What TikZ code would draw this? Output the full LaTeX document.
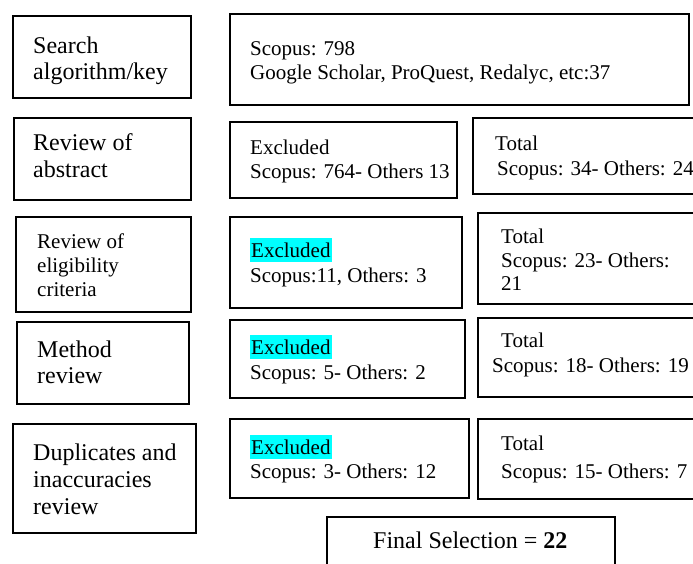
\documentclass[tikz,border=0pt]{standalone}
\usepackage{fontspec}
\setmainfont{Liberation Serif}
\definecolor{hlcyan}{RGB}{0,255,255}
\begin{document}
\begin{tikzpicture}[x=1pt,y=-1pt,
  box/.style={draw, line width=1.8pt, inner sep=0pt, anchor=north west},
  big/.style={font=\fontsize{24}{27}\selectfont, anchor=base west, inner sep=0pt},
  small/.style={font=\fontsize{21}{24}\selectfont, anchor=base west, inner sep=0pt},
  hl/.style={small, fill=hlcyan, text height=19pt, text depth=5pt, inner xsep=1pt}]
\useasboundingbox (0,0) rectangle (693,563);
\clip (0,0) rectangle (693,563);
% boxes
\node[box, minimum width=178pt, minimum height=82pt] (search) at (12,15) {};
\node[box, minimum width=459pt, minimum height=91pt] (scopus) at (229,13) {};
\node[box, minimum width=177pt, minimum height=82pt] (abstract) at (13,117) {};
\node[box, minimum width=227pt, minimum height=76pt] (exc1) at (229,121) {};
\node[box, minimum width=228pt, minimum height=76pt] (tot1) at (472,117) {};
\node[box, minimum width=175pt, minimum height=95pt] (elig) at (15,216) {};
\node[box, minimum width=232pt, minimum height=91pt] (exc2) at (229,216) {};
\node[box, minimum width=223pt, minimum height=91pt] (tot2) at (477,212) {};
\node[box, minimum width=172pt, minimum height=82pt] (method) at (16,321) {};
\node[box, minimum width=235pt, minimum height=78pt] (exc3) at (229,319) {};
\node[box, minimum width=223pt, minimum height=79pt] (tot3) at (477,317) {};
\node[box, minimum width=183pt, minimum height=109pt] (dup) at (12,423) {};
\node[box, minimum width=239pt, minimum height=79pt] (exc4) at (229,418) {};
\node[box, minimum width=223pt, minimum height=80pt] (tot4) at (477,418) {};
\node[box, minimum width=288pt, minimum height=64pt] (final) at (326,516) {};
% texts row 1
\node[big] (t1a) at (33,53) {Search};
\node[big] (t1b) at (33,79) {algorithm/key};
\node[small] (s1a) at (250,55) {Scopus: 798};
\node[small] (s1b) at (250,79) {Google Scholar, ProQuest, Redalyc, etc:37};
% row 2
\node[big] (t2a) at (33,150) {Review of};
\node[big] (t2b) at (33,177) {abstract};
\node[small] (e1a) at (250,154) {Excluded};
\node[small] (e1b) at (250,178) {Scopus: 764- Others 13};
\node[small] (o1a) at (495,150) {Total};
\node[small] (o1b) at (497,175) {Scopus: 34- Others: 24};
% row 3
\node[small] (t3a) at (37,248) {Review of};
\node[small] (t3b) at (37,272) {eligibility};
\node[small] (t3c) at (37,296) {criteria};
\node[hl] (e2a) at (250,257) {Excluded};
\node[small] (e2b) at (250,282) {Scopus:11, Others: 3};
\node[small] (o2a) at (501,243) {Total};
\node[small] (o2b) at (501,267) {Scopus: 23- Others:};
\node[small] (o2c) at (501,290) {21};
% row 4
\node[big] (t4a) at (37,357) {Method};
\node[big] (t4b) at (37,383) {review};
\node[hl] (e3a) at (250,354) {Excluded};
\node[small] (e3b) at (250,379) {Scopus: 5- Others: 2};
\node[small] (o3a) at (501,347) {Total};
\node[small] (o3b) at (492,372) {Scopus: 18- Others: 19};
% row 5
\node[big] (t5a) at (33,460) {Duplicates and};
\node[big] (t5b) at (33,487) {inaccuracies};
\node[big] (t5c) at (33,514) {review};
\node[hl] (e4a) at (250,454) {Excluded};
\node[small] (e4b) at (250,478) {Scopus: 3- Others: 12};
\node[small] (o4a) at (501,450) {Total};
\node[small] (o4b) at (501,478) {Scopus: 15- Others: 7};
% final
\node[big] (fin) at (373,548) {Final Selection = \textbf{22}};
\end{tikzpicture}
\end{document}
